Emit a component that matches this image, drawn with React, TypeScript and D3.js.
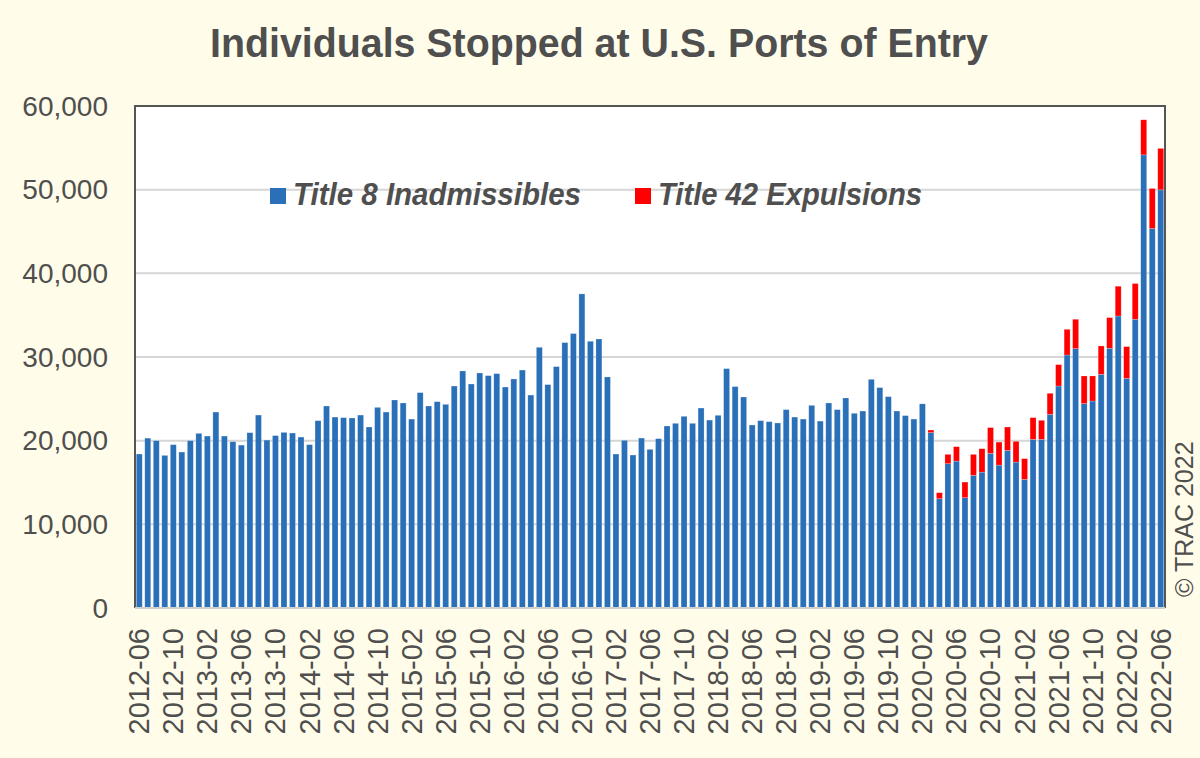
import React from "react";
import * as d3 from "d3";

const title = "Individuals Stopped at U.S. Ports of Entry";
const seriesNames = ["Title 8 Inadmissibles", "Title 42 Expulsions"];
const startYear = 2012;
const startMonth = 6;
const monthCount = 121;

const title8: number[] = [
  18400, 20300, 20000, 18240, 19520, 18640, 20000, 20870, 20550, 23420,
  20550, 19880, 19470, 20950, 23060, 20070, 20600, 20990, 20910, 20430,
  19520, 22390, 24140, 22820, 22750, 22710, 23060, 21630, 23980, 23420,
  24860, 24500, 22580, 25740, 24140, 24660, 24340, 26530, 28330, 26770,
  28090, 27770, 28010, 26410, 27370, 28440, 25450, 31160, 26700, 28850,
  31720, 32800, 37540, 31880, 32150, 27610, 18400, 20040, 18280, 20310,
  18960, 20240, 21750, 22070, 22910, 22070, 23900, 22460, 23030, 28610,
  26460, 25220, 21870, 22390, 22270, 22110, 23710, 22820, 22580, 24220,
  22340, 24500, 23710, 25100, 23270, 23540, 27330, 26340, 25260, 23540,
  22990, 22580, 24400, 20960, 13060, 17250, 17560, 13180, 15850, 16240,
  18480, 17080, 18840, 17440, 15370, 20160, 20160, 23150, 26530, 30240,
  31000, 24430, 24740, 27930, 31040, 34900, 27450, 34510, 54160, 45360,
  49980,
];

// Title 42 expulsions begin 2020-03 (earlier months are zero)
const title42Start = "2020-03";
const title42: number[] = [
  310, 720, 1110, 1720, 1870, 2510, 2800, 3080, 2750, 2790,
  2480, 2480, 2590, 2270, 2510, 2560, 3070, 3510, 3300, 2990,
  3390, 3670, 3560, 3790, 4270, 4190, 4780, 4950,
];

const tickLabels = [
  "2012-06", "2012-10", "2013-02", "2013-06", "2013-10", "2014-02", "2014-06",
  "2014-10", "2015-02", "2015-06", "2015-10", "2016-02", "2016-06", "2016-10",
  "2017-02", "2017-06", "2017-10", "2018-02", "2018-06", "2018-10", "2019-02",
  "2019-06", "2019-10", "2020-02", "2020-06", "2020-10", "2021-02", "2021-06",
  "2021-10", "2022-02", "2022-06",
];

const yTicks = [0, 10000, 20000, 30000, 40000, 50000, 60000];

const months: string[] = [];
for (let i = 0; i < monthCount; i++) {
  const m = startMonth - 1 + i;
  const y = startYear + Math.floor(m / 12);
  const mm = (m % 12) + 1;
  months.push(`${y}-${mm < 10 ? "0" + mm : mm}`);
}

const W = 1200;
const H = 758;
const plot = { left: 135, right: 1165, top: 106, bottom: 608 };
const BLUE = "#2a70b8";
const RED = "#ff0000";
const TEXT = "#4f4f4f";
const FONT = "'Liberation Sans', Arial, sans-serif";

export default function App() {
  const x = d3
    .scaleBand<string>()
    .domain(months)
    .range([plot.left, plot.right])
    .paddingInner(0.3)
    .paddingOuter(0.15);
  const y = d3.scaleLinear().domain([0, 60000]).range([plot.bottom, plot.top]);

  const t42Offset = months.indexOf(title42Start);
  const rows = months.map((m, i) => {
    const j = i - t42Offset;
    return { month: m, t8: title8[i], t42: j >= 0 && j < title42.length ? title42[j] : 0 };
  });
  const stack = d3.stack<any>().keys(["t8", "t42"])(rows);
  const colors = [BLUE, RED];
  const fmt = d3.format(",");

  return (
    <svg
      width={W}
      height={H}
      style={{ position: "fixed", left: 0, top: 0, display: "block" }}
      fontFamily={FONT}
    >
      <rect x={0} y={0} width={W} height={H} fill="#fffde9" />
      <text
        x={210}
        y={56.5}
        fontSize={40}
        fontWeight="bold"
        fill={TEXT}
        textLength={778}
        lengthAdjust="spacingAndGlyphs"
      >
        {title}
      </text>

      <rect
        x={plot.left}
        y={plot.top}
        width={plot.right - plot.left}
        height={plot.bottom - plot.top}
        fill="#ffffff"
      />
      {yTicks.slice(1).map((t) => (
        <line
          key={"g" + t}
          x1={plot.left}
          x2={plot.right}
          y1={y(t)}
          y2={y(t)}
          stroke="#d6d6d6"
          strokeWidth={2}
        />
      ))}

      {/* legend */}
      <rect x={270} y={188} width={16} height={16} fill={BLUE} />
      <text
        x={293}
        y={204.5}
        fontSize={31}
        fontWeight="bold"
        fontStyle="italic"
        fill={TEXT}
        textLength={288}
        lengthAdjust="spacingAndGlyphs"
      >
        {seriesNames[0]}
      </text>
      <rect x={635} y={188} width={16} height={16} fill={RED} />
      <text
        x={658}
        y={204.5}
        fontSize={31}
        fontWeight="bold"
        fontStyle="italic"
        fill={TEXT}
        textLength={264}
        lengthAdjust="spacingAndGlyphs"
      >
        {seriesNames[1]}
      </text>

      {stack.map((layer, li) => (
        <g key={li} fill={colors[li]}>
          {layer.map((d: any, i: number) =>
            d[1] - d[0] > 0 ? (
              <rect
                key={i}
                x={x(months[i])}
                y={y(d[1])}
                width={x.bandwidth()}
                height={y(d[0]) - y(d[1])}
                stroke="rgba(255,255,255,0.35)"
                strokeWidth={0.6}
              />
            ) : null
          )}
        </g>
      ))}

      {/* frame */}
      <path
        d={`M${plot.left},${plot.bottom}V${plot.top}H${plot.right}V${plot.bottom}`}
        fill="none"
        stroke="#555"
        strokeWidth={2}
      />
      <line
        x1={plot.left}
        x2={plot.right}
        y1={plot.bottom}
        y2={plot.bottom}
        stroke="#d0d0d0"
        strokeWidth={2}
      />

      {yTicks.map((t) => (
        <text
          key={"y" + t}
          x={108}
          y={y(t)}
          textAnchor="end"
          dominantBaseline="central"
          fontSize={28}
          fill={TEXT}
        >
          {fmt(t)}
        </text>
      ))}

      {tickLabels.map((lab) => {
        const cx = (x(lab) ?? 0) + x.bandwidth() / 2;
        return (
          <text
            key={lab}
            transform={`translate(${cx},628) rotate(-90)`}
            textAnchor="end"
            dominantBaseline="central"
            fontSize={29}
            fill={TEXT}
          >
            {lab}
          </text>
        );
      })}

      <text
        transform="translate(1184,597) rotate(-90)"
        textAnchor="start"
        dominantBaseline="central"
        fontSize={25}
        fill={TEXT}
      >
        © TRAC 2022
      </text>
    </svg>
  );
}
